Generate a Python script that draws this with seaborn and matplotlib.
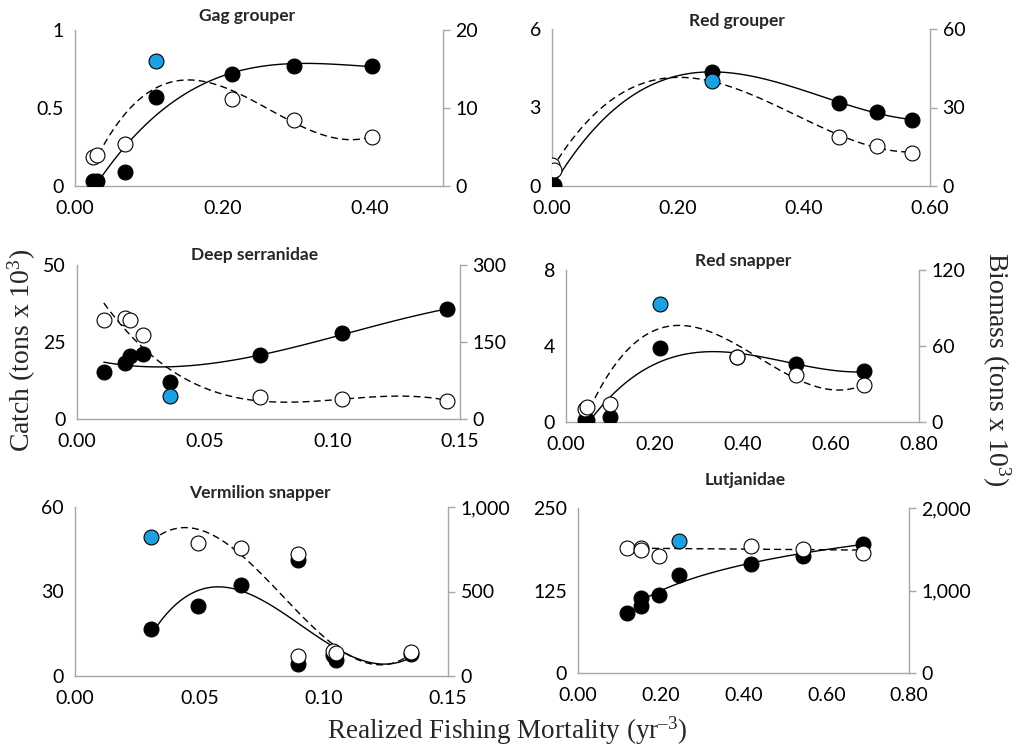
import matplotlib
matplotlib.use('Agg')
import matplotlib.pyplot as plt
import matplotlib.ticker as mticker
import seaborn as sns

sns.set_style('white')
plt.rcParams['font.family'] = ['Lato', 'DejaVu Sans']
plt.rcParams['mathtext.fontset'] = 'custom'
plt.rcParams['mathtext.rm'] = 'Liberation Serif'
plt.rcParams['mathtext.default'] = 'regular'

# ---- data ----
# each panel: fishing mortality, catch (left axis), biomass (right axis);
# the biomass point at the *_ref index is drawn in blue
gag_f = [0.025, 0.03, 0.068, 0.11, 0.213, 0.297, 0.403]
gag_catch = [0.03, 0.03, 0.09, 0.57, 0.72, 0.77, 0.77]
gag_bio = [3.7, 4.0, 5.4, 16.0, 11.1, 8.5, 6.3]
gag_ref = 3

redg_f = [0.0, 0.003, 0.254, 0.456, 0.516, 0.571]
redg_catch = [0.0, 0.02, 4.37, 3.16, 2.84, 2.52]
redg_bio = [8.0, 6.3, 40.1, 18.9, 15.4, 12.7]
redg_ref = 2

deep_f = [0.0105, 0.0189, 0.0209, 0.0259, 0.0365, 0.0718, 0.1036, 0.145]
deep_catch = [15.4, 18.1, 20.3, 21.1, 11.9, 20.8, 27.9, 35.6]
deep_bio = [193, 196, 193, 164, 44, 42.8, 39.5, 35.6]
deep_ref = 4

reds_f = [0.044, 0.048, 0.100, 0.214, 0.387, 0.521, 0.676]
reds_catch = [0.08, 0.1, 0.25, 3.89, 3.4, 3.06, 2.66]
reds_bio = [10.5, 11.5, 14.2, 93.2, 51.7, 37.3, 29.4]
reds_ref = 3

verm_f = [0.0306, 0.0496, 0.0666, 0.0895, 0.0895, 0.1036, 0.1048, 0.1351]
verm_catch = [16.6, 24.9, 32.2, 41.3, 4.25, 7.4, 5.7, 7.7]
verm_bio = [823, 789, 760, 724, 118, 148, 134, 144]
verm_ref = 0

lutj_f = [0.118, 0.152, 0.152, 0.195, 0.245, 0.417, 0.543, 0.689]
lutj_catch = [90.9, 113.6, 101, 118.7, 149, 165, 177.8, 195.5]
lutj_bio = [1515, 1515, 1495, 1414, 1604, 1543, 1503, 1455]
lutj_ref = 4

titles = ['Gag grouper', 'Red grouper', 'Deep serranidae',
          'Red snapper', 'Vermilion snapper', 'Lutjanidae']
x_ticks = [[0, 0.2, 0.4], [0, 0.2, 0.4, 0.6], [0, 0.05, 0.10, 0.15],
           [0, 0.2, 0.4, 0.6, 0.8], [0, 0.05, 0.10, 0.15], [0, 0.2, 0.4, 0.6, 0.8]]
x_max = [0.5, 0.6, 0.15, 0.8, 0.15, 0.8]
catch_ticks = [[0, 0.5, 1], [0, 3, 6], [0, 25, 50], [0, 4, 8], [0, 30, 60], [0, 125, 250]]
bio_ticks = [[0, 10, 20], [0, 30, 60], [0, 150, 300], [0, 60, 120], [0, 500, 1000], [0, 1000, 2000]]

panels = [(gag_f, gag_catch, gag_bio, gag_ref),
          (redg_f, redg_catch, redg_bio, redg_ref),
          (deep_f, deep_catch, deep_bio, deep_ref),
          (reds_f, reds_catch, reds_bio, reds_ref),
          (verm_f, verm_catch, verm_bio, verm_ref),
          (lutj_f, lutj_catch, lutj_bio, lutj_ref)]

# axes boxes in pixels: left, right, top, bottom
boxes = [(75, 443, 30, 186), (552, 930, 29, 186),
         (77, 460, 265, 419), (566, 919, 270, 422),
         (75, 448, 507, 676), (578, 909, 508, 673)]
# title centres in pixels
title_pos = [(247, 16), (737, 21), (255, 255), (743, 261), (260, 493), (745, 480)]

W, H = 1014, 747
fig = plt.figure(figsize=(W / 100, H / 100), dpi=100)
grey = '#a6a6a6'
blue = '#1BA1E2'
msize = 115

for i, (f, c, b, ref) in enumerate(panels):
    l, r, t, btm = boxes[i]
    ax = fig.add_axes([l / W, 1 - btm / H, (r - l) / W, (btm - t) / H])
    ax2 = ax.twinx()

    # trend lines
    if i == 5:
        sns.regplot(x=f[1:], y=c[1:], ax=ax, logx=True, scatter=False, ci=None,
                    line_kws=dict(color='black', lw=1))
        sns.regplot(x=f[1:], y=b[1:], ax=ax2, order=1, scatter=False, ci=None,
                    line_kws=dict(color='black', lw=1, ls=(0, (5, 3))))
    else:
        sns.regplot(x=f, y=c, ax=ax, order=3, scatter=False, ci=None,
                    line_kws=dict(color='black', lw=1))
        sns.regplot(x=f, y=b, ax=ax2, order=3, scatter=False, ci=None,
                    line_kws=dict(color='black', lw=1, ls=(0, (5, 3))))

    sns.scatterplot(x=f, y=c, ax=ax, color='black', s=msize, edgecolor='black',
                    linewidth=0.8, zorder=3)
    open_f = [v for k, v in enumerate(f) if k != ref]
    open_b = [v for k, v in enumerate(b) if k != ref]
    sns.scatterplot(x=open_f, y=open_b, ax=ax2, color='white', s=msize,
                    edgecolor='black', linewidth=0.8, zorder=3)
    sns.scatterplot(x=[f[ref]], y=[b[ref]], ax=ax2, color=blue, s=msize,
                    edgecolor='black', linewidth=0.8, zorder=4)

    ax.set_xlim(0, x_max[i])
    ax.set_xticks(x_ticks[i])
    ax.xaxis.set_major_formatter(mticker.FormatStrFormatter('%.2f'))
    ax.set_ylim(catch_ticks[i][0], catch_ticks[i][-1])
    ax.set_yticks(catch_ticks[i])
    ax.yaxis.set_major_formatter(mticker.FuncFormatter(lambda v, p: f'{v:g}'))
    ax2.set_ylim(bio_ticks[i][0], bio_ticks[i][-1])
    ax2.set_yticks(bio_ticks[i])
    ax2.yaxis.set_major_formatter(mticker.FuncFormatter(lambda v, p: f'{v:,.0f}'))

    for a in (ax, ax2):
        a.set_facecolor('none')
        a.spines['top'].set_visible(False)
        for s in ('left', 'right', 'bottom'):
            a.spines[s].set_color(grey)
            a.spines[s].set_linewidth(1)
        a.tick_params(labelsize=14, colors='black')
    ax.spines['right'].set_visible(False)
    ax2.spines['left'].set_visible(False)
    ax2.spines['bottom'].set_visible(False)
    ax.tick_params(axis='x', length=0, pad=10)
    ax.tick_params(axis='y', length=0, pad=8)
    ax2.tick_params(axis='y', length=5, width=1, color=grey, direction='out', pad=4)
    ax.set_xlabel('')
    ax.set_ylabel('')
    ax2.set_ylabel('')
    fig.text(title_pos[i][0] / W, 1 - title_pos[i][1] / H, titles[i],
             ha='center', va='center', fontsize=12.5, fontweight='bold')

fig.text(22 / W, 1 - 350 / H, r'Catch (tons x 10$^3$)', rotation=90,
         ha='center', va='center', fontsize=20, family='Liberation Serif')
fig.text(996 / W, 1 - 369 / H, r'Biomass (tons x 10$^3$)', rotation=270,
         ha='center', va='center', fontsize=20, family='Liberation Serif')
fig.text(507 / W, 1 - 731 / H, 'Realized Fishing Mortality (yr$^{' + '\u2013' + '3}$)',
         ha='center', va='center', fontsize=19.5, family='Liberation Serif')

fig.savefig('out.png', dpi=100)
